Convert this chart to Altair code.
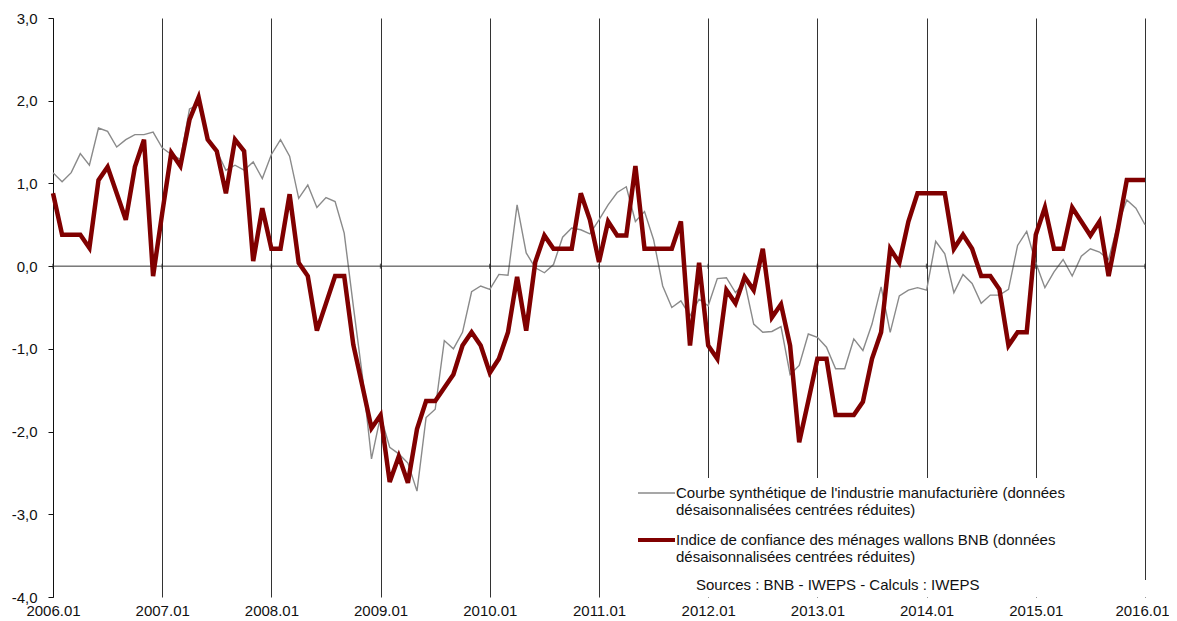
import altair as alt
import pandas as pd

# ---------------- data ----------------
# monthly index: 0 = 2006.01 ... 120 = 2016.01
industrie = [
    1.13, 1.02, 1.13, 1.36, 1.22, 1.67, 1.63, 1.44, 1.53, 1.59, 1.59, 1.62,
    1.43, 1.35, 1.29, 1.90, 1.95, 1.55, 1.39, 1.16, 1.22, 1.16, 1.26, 1.06,
    1.35, 1.53, 1.33, 0.82, 0.98, 0.71, 0.83, 0.78, 0.40, -0.48, -1.33, -2.33,
    -1.81, -2.19, -2.27, -2.38, -2.72, -1.83, -1.73, -0.90, -1.00, -0.80, -0.31, -0.24,
    -0.28, -0.10, -0.11, 0.74, 0.16, -0.02, -0.08, 0.02, 0.35, 0.46, 0.44, 0.39,
    0.56, 0.74, 0.89, 0.96, 0.54, 0.66, 0.32, -0.24, -0.50, -0.42, -0.60, -0.40,
    -0.48, -0.15, -0.14, -0.32, -0.19, -0.70, -0.80, -0.79, -0.73, -1.31, -1.20, -0.82,
    -0.86, -0.98, -1.24, -1.24, -0.88, -1.02, -0.70, -0.25, -0.80, -0.36, -0.29, -0.26,
    -0.29, 0.30, 0.15, -0.32, -0.10, -0.21, -0.45, -0.35, -0.35, -0.28, 0.25, 0.42,
    0.04, -0.26, -0.07, 0.08, -0.12, 0.12, 0.21, 0.17, 0.08, 0.50, 0.80, 0.70,
    0.50,
]
menages = [
    0.88, 0.38, 0.38, 0.38, 0.22, 1.04, 1.20, 0.88, 0.56, 1.20, 1.53, -0.12,
    0.64, 1.37, 1.21, 1.77, 2.04, 1.53, 1.39, 0.88, 1.53, 1.39, 0.06, 0.70,
    0.21, 0.21, 0.87, 0.04, -0.12, -0.78, -0.45, -0.12, -0.12, -0.95, -1.45, -1.96,
    -1.80, -2.61, -2.30, -2.62, -1.97, -1.63, -1.63, -1.47, -1.31, -0.96, -0.80, -0.96,
    -1.29, -1.12, -0.80, -0.13, -0.78, 0.05, 0.37, 0.21, 0.21, 0.21, 0.88, 0.56,
    0.05, 0.54, 0.37, 0.37, 1.21, 0.21, 0.21, 0.21, 0.21, 0.54, -0.96, 0.04,
    -0.96, -1.12, -0.29, -0.45, -0.13, -0.29, 0.21, -0.62, -0.46, -0.96, -2.13, -1.63,
    -1.12, -1.12, -1.80, -1.80, -1.80, -1.64, -1.12, -0.80, 0.21, 0.04, 0.54, 0.88,
    0.88, 0.88, 0.88, 0.21, 0.38, 0.21, -0.12, -0.12, -0.28, -0.96, -0.80, -0.80,
    0.38, 0.71, 0.21, 0.21, 0.71, 0.54, 0.37, 0.54, -0.12, 0.44, 1.04, 1.04,
    1.04,
]
x_tick_values = [0, 12, 24, 36, 48, 60, 72, 84, 96, 108, 120]
x_tick_labels = ["2006.01", "2007.01", "2008.01", "2009.01", "2010.01", "2011.01",
                 "2012.01", "2013.01", "2014.01", "2015.01", "2016.01"]
y_tick_values = [-4, -3, -2, -1, 0, 1, 2, 3]
y_tick_labels = ["-4,0", "-3,0", "-2,0", "-1,0", "0,0", "1,0", "2,0", "3,0"]
legend_lines_1 = ["Courbe synthétique de l'industrie manufacturière (données",
                  "désaisonnalisées centrées réduites)"]
legend_lines_2 = ["Indice de confiance des ménages wallons BNB (données",
                  "désaisonnalisées centrées réduites)"]
source_text = "Sources : BNB - IWEPS - Calculs : IWEPS"

FONT = "Liberation Sans, Arial, Helvetica, sans-serif"
GREY = "#8a8a8a"
RED = "#800000"

df_ind = pd.DataFrame({"m": list(range(len(industrie))), "v": industrie})
df_men = pd.DataFrame({"m": list(range(len(menages))), "v": menages})
df_ticks = pd.DataFrame({"m": x_tick_values})
one = pd.DataFrame({"k": [0]})

x_label_expr = "[" + ",".join(f"'{s}'" for s in x_tick_labels) + "][round(datum.value / 12)]"
y_label_expr = "[" + ",".join(f"'{s}'" for s in y_tick_labels) + "][round(datum.value + 4)]"

xscale = alt.Scale(domain=[0, 120], nice=False, zero=False)
yscale = alt.Scale(domain=[-4, 3], nice=False, zero=False)

x_axis = alt.Axis(values=x_tick_values, labelExpr=x_label_expr, title=None,
                  grid=True, gridColor="#333333", gridWidth=1, domain=False,
                  ticks=False, tickSize=0, labelFlush=False, labelOverlap=False,
                  labelFontSize=15, labelFont=FONT, labelColor="#111111",
                  labelPadding=6,
                  labelOffset={"condition": {"test": "datum.value >= 120", "value": -3},
                               "value": 0})
y_axis = alt.Axis(values=y_tick_values, labelExpr=y_label_expr, title=None,
                  grid=False, domain=True, domainColor="#111111", ticks=True,
                  tickSize=5, tickColor="#111111", labelFlush=False,
                  labelFontSize=15, labelFont=FONT, labelColor="#111111",
                  labelPadding=11)

grey_line = alt.Chart(df_ind).mark_line(color=GREY, strokeWidth=1.4).encode(
    x=alt.X("m:Q", scale=xscale, axis=x_axis),
    y=alt.Y("v:Q", scale=yscale, axis=y_axis),
)
red_line = alt.Chart(df_men).mark_line(color=RED, strokeWidth=4.5).encode(
    x=alt.X("m:Q", scale=xscale),
    y=alt.Y("v:Q", scale=yscale),
)
zero_rule = alt.Chart(one).mark_rule(color="#333333", strokeWidth=1).encode(
    y=alt.datum(0, scale=yscale),
)
zero_ticks = alt.Chart(df_ticks).mark_tick(color="#222222", thickness=1.5, size=5).encode(
    x=alt.X("m:Q", scale=xscale),
    y=alt.datum(0, scale=yscale),
)

# white boxes behind the legend and the source note (they hide the grid lines there)
legend_box = alt.Chart(one).mark_rect(color="white").encode(
    x=alt.value(579), x2=alt.value(1088), y=alt.value(460), y2=alt.value(579))
source_box = alt.Chart(one).mark_rect(color="white").encode(
    x=alt.value(1080), x2=alt.value(1097), y=alt.value(562), y2=alt.value(579))

txt = dict(align="left", baseline="middle", fontSize=15, font=FONT, color="#111111")

leg_rule_1 = alt.Chart(one).mark_rule(color=GREY, strokeWidth=1.4).encode(
    x=alt.value(585), x2=alt.value(622), y=alt.value(475))
leg_rule_2 = alt.Chart(one).mark_rule(color=RED, strokeWidth=4).encode(
    x=alt.value(585), x2=alt.value(622), y=alt.value(522))
leg_texts = []
for i, s in enumerate(legend_lines_1):
    leg_texts.append(alt.Chart(one).mark_text(**txt).encode(
        x=alt.value(623), y=alt.value(475 + 17 * i), text=alt.value(s)))
for i, s in enumerate(legend_lines_2):
    leg_texts.append(alt.Chart(one).mark_text(**txt).encode(
        x=alt.value(623), y=alt.value(522 + 17 * i), text=alt.value(s)))
src = alt.Chart(one).mark_text(**txt).encode(
    x=alt.value(643), y=alt.value(567), text=alt.value(source_text))

chart = alt.layer(
    grey_line, zero_rule, zero_ticks, red_line, legend_box, source_box,
    leg_rule_1, leg_rule_2, *leg_texts, src,
).properties(
    width=1092, height=579,
    padding={"left": 45, "top": 10, "right": 24, "bottom": 22},
    autosize=alt.AutoSizeParams(type="none"),
).configure_view(stroke=None).resolve_scale(x="shared", y="shared")

chart.save("out.html", embed_options={"renderer": "svg", "actions": False})
